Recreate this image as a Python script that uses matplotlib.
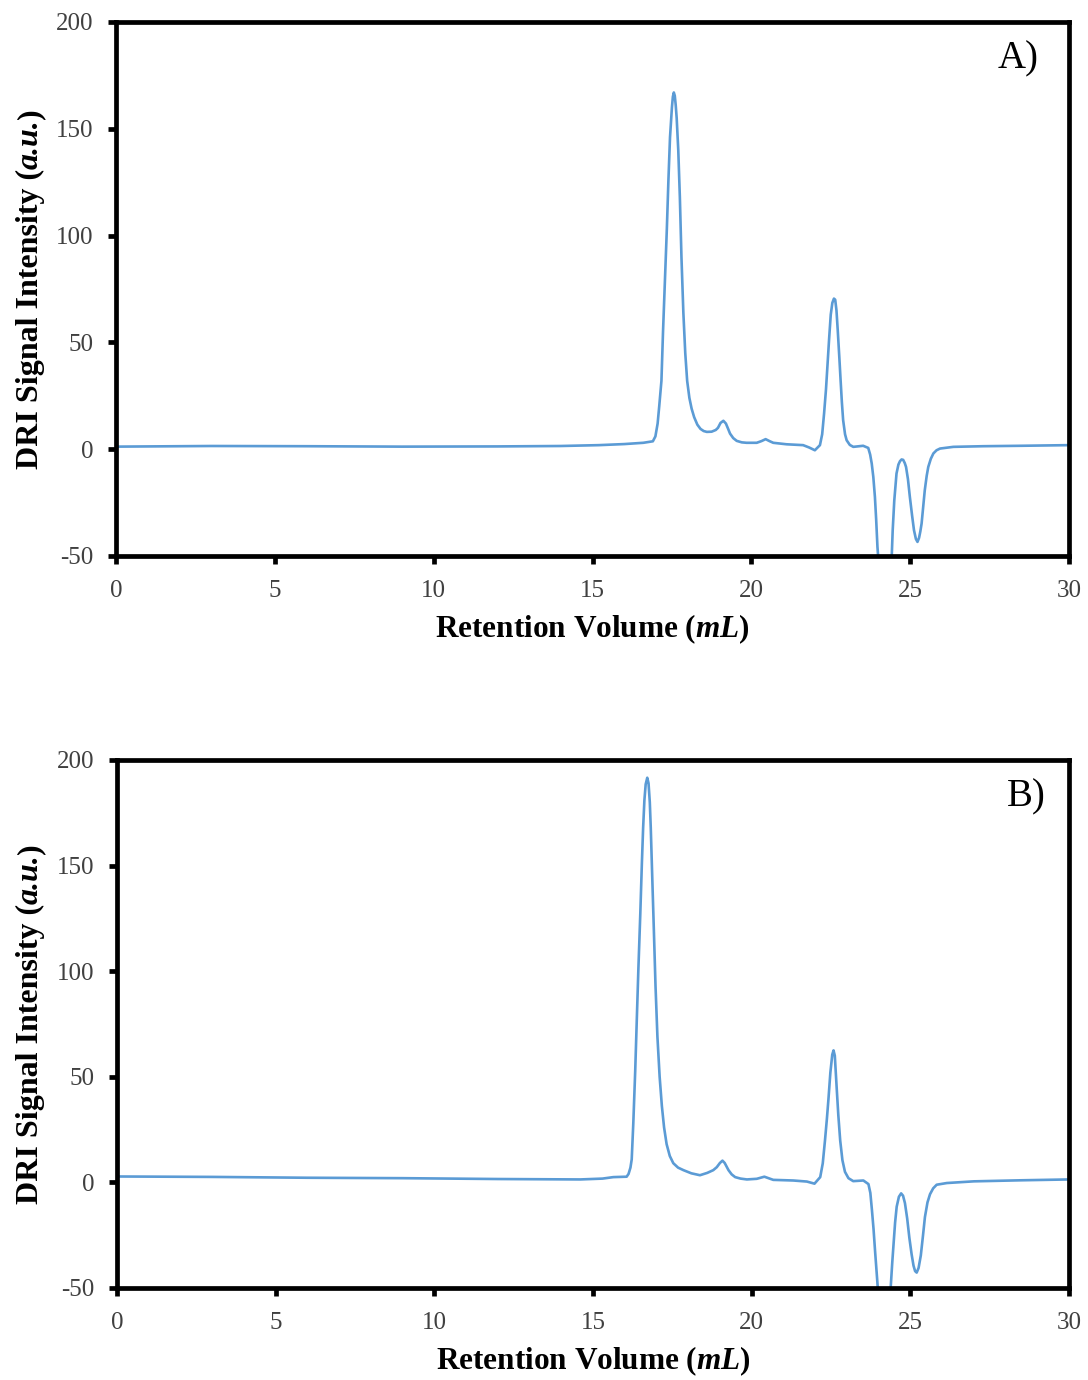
import matplotlib
matplotlib.use("Agg")
import matplotlib.pyplot as plt

# ---------------- data ----------------
x_a = [0, 3, 6, 9, 12, 14, 15.2, 16.0, 16.6, 16.9, 16.98, 17.05, 17.1, 17.17, 17.22, 17.28,
       17.34, 17.39, 17.44, 17.5, 17.53, 17.56, 17.59, 17.62, 17.65, 17.7, 17.75, 17.8,
       17.86, 17.92, 17.98, 18.05, 18.12, 18.2, 18.3, 18.4, 18.5, 18.6, 18.75, 18.88,
       18.95, 19.03, 19.12, 19.2, 19.27, 19.33, 19.43, 19.54, 19.7, 19.85, 20.17, 20.32,
       20.45, 20.57, 20.69, 21.11, 21.63, 21.82, 22.0, 22.16, 22.23, 22.29, 22.35, 22.4,
       22.45, 22.5, 22.55, 22.6, 22.64, 22.68, 22.72, 22.77, 22.81, 22.85, 22.89, 22.95,
       23.0, 23.1, 23.21, 23.52, 23.68, 23.74, 23.79, 23.84, 23.89, 23.93, 23.97, 24.05,
       24.2, 24.35, 24.42, 24.45, 24.5, 24.57, 24.63, 24.68, 24.73, 24.78, 24.83, 24.87,
       24.93, 24.99, 25.06, 25.12, 25.18, 25.23, 25.28, 25.32, 25.36, 25.41, 25.46, 25.52,
       25.57, 25.65, 25.73, 25.83, 25.94, 26.36, 27.3, 28.5, 30]
y_a = [1.2, 1.5, 1.4, 1.2, 1.3, 1.5, 1.9, 2.4, 3.0, 3.7, 6, 12, 20, 32, 55, 79,
       103, 126, 146, 160, 165, 167, 165.5, 161, 155, 140, 118, 90,
       64, 45, 32, 24, 19, 15, 11.5, 9.5, 8.5, 8.1, 8.2, 9.0,
       10, 12.3, 13.3, 12, 9.5, 7.3, 5.2, 3.9, 3.2, 3.0, 3.0, 3.8,
       4.7, 3.8, 3.0, 2.3, 1.9, 0.8, -0.5, 1.9, 7, 16.7, 28, 40,
       52, 63, 68.5, 70.5, 70, 65, 55.7, 43, 32.3, 22, 13.6, 7,
       4.2, 2.0, 1.1, 1.6, 0.6, -2.5, -6.7, -13, -22.3, -33, -45.7, -62,
       -75, -62, -50, -38, -24, -11.4, -7.2, -5.6, -4.8, -5.0, -6.5, -8.3,
       -14, -22.3, -31, -37.9, -42, -43.4, -41.5, -38.5, -34.8, -27, -19.2, -12.5,
       -8.3, -4.5, -2.0, -0.5, 0.3, 1.1, 1.4, 1.6, 1.9]

x_b = [0, 3, 6, 9, 12, 14.6, 15.3, 15.64, 16.06, 16.12, 16.18, 16.22, 16.27, 16.33, 16.38,
       16.43, 16.49, 16.54, 16.58, 16.62, 16.66, 16.71, 16.75, 16.79, 16.82, 16.87, 16.92,
       16.97, 17.03, 17.1, 17.17, 17.24, 17.32, 17.42, 17.53, 17.68, 17.85, 18.1, 18.37,
       18.6, 18.79, 18.9, 19.0, 19.08, 19.15, 19.21, 19.27, 19.37, 19.48, 19.65, 19.85,
       20.16, 20.28, 20.4, 20.53, 20.68, 21.31, 21.74, 21.98, 22.16, 22.24, 22.31, 22.37,
       22.42, 22.48, 22.54, 22.58, 22.62, 22.68, 22.73, 22.79, 22.86, 22.94, 23.05, 23.2,
       23.52, 23.68, 23.74, 23.79, 23.84, 23.89, 23.96, 24.03, 24.17, 24.31, 24.38, 24.43,
       24.47, 24.52, 24.57, 24.64, 24.71, 24.77, 24.83, 24.9, 24.97, 25.04, 25.1, 25.15,
       25.2, 25.26, 25.33, 25.4, 25.46, 25.54, 25.62, 25.72, 25.83, 26.15, 27.0, 28.5, 30]
y_b = [2.8, 2.6, 2.2, 2.0, 1.6, 1.4, 1.8, 2.5, 2.7, 4, 7, 10.9, 28, 52.7, 77,
       101, 127, 151, 168, 181, 188.5, 191.6, 189, 180, 168, 143, 118.4,
       93, 69, 50, 36.2, 26, 18.1, 12.5, 9.1, 7, 5.8, 4.3, 3.4,
       4.5, 5.8, 7.2, 9.2, 10.3, 9.2, 7.5, 5.8, 3.8, 2.5, 1.8, 1.4,
       1.7, 2.2, 2.7, 2.0, 1.2, 0.9, 0.4, -0.6, 2.5, 9, 19.8, 30,
       39.5, 52, 60.5, 62.5, 60, 44.5, 32, 19.8, 10.5, 5.0, 2.0, 0.6,
       0.9, -0.8, -5, -13.1, -22, -32.8, -47, -62, -75, -62, -50, -38,
       -29.5, -19, -11.5, -6.8, -5.2, -6.3, -9.8, -17, -26.3, -34, -39.4, -42,
       -42.7, -40.5, -34.6, -25, -16.4, -9.5, -5.6, -2.8, -1.1, -0.3, 0.5, 1.0, 1.4]

panel_labels = ["A)", "B)"]
x_ticks = [0, 5, 10, 15, 20, 25, 30]
y_ticks = [-50, 0, 50, 100, 150, 200]
ylabel_parts = [("DRI Signal Intensity (", "normal"), ("a.u.", "italic"), (")", "normal")]

# ---------------- style ----------------
serif = "Liberation Serif"
plt.rcParams["axes.unicode_minus"] = False
plt.rcParams["mathtext.fontset"] = "custom"
plt.rcParams["mathtext.it"] = "Liberation Serif:italic:bold"
plt.rcParams["mathtext.rm"] = "Liberation Serif:bold"
plt.rcParams["mathtext.bf"] = "Liberation Serif:bold"

W, H = 1088, 1380
fig = plt.figure(figsize=(W / 100, H / 100), dpi=100)
renderer = fig.canvas.get_renderer()
line_color = "#5B9BD5"

axes_pos = [
    [116 / W, 1 - 556 / H, (1069 - 116) / W, (556 - 22) / H],
    [117 / W, 1 - 1288 / H, (1069 - 117) / W, (1288 - 760) / H],
]
series = [(x_a, y_a), (x_b, y_b)]
label_xy = [(0.968, 0.93), (0.976, 0.93)]
ylab_fs = 23

# measure the y-label pieces (unrotated widths)
part_w = []
for s, st in ylabel_parts:
    t = fig.text(0, 0, s, fontfamily=serif, fontsize=ylab_fs, fontweight="bold", fontstyle=st)
    part_w.append(t.get_window_extent(renderer).width)
    t.remove()
total_w = sum(part_w)

for pos, (xs, ys), lab, lxy in zip(axes_pos, series, panel_labels, label_xy):
    ax = fig.add_axes(pos)
    ax.plot(xs, ys, color=line_color, lw=1.9, solid_joinstyle="round")
    ax.set_xlim(0, 30)
    ax.set_ylim(-50, 200)
    ax.set_xticks(x_ticks)
    ax.set_yticks(y_ticks)
    for s in ax.spines.values():
        s.set_linewidth(3.4)
        s.set_color("black")
    ax.tick_params(axis="both", direction="out", length=6, width=3.4, color="black",
                   labelsize=18, labelcolor="#404040")
    ax.tick_params(axis="x", pad=11)
    ax.tick_params(axis="y", pad=10)
    for t in ax.get_xticklabels() + ax.get_yticklabels():
        t.set_fontfamily(serif)
    ax.set_xlabel(r"Retention Volume ($mL$)", fontfamily=serif,
                  fontsize=22.5, fontweight="bold", labelpad=8)
    ax.text(lxy[0], lxy[1], lab, transform=ax.transAxes, ha="right", va="center",
            fontfamily=serif, fontsize=28)

    # rotated y label built from pieces (mixed upright / italic)
    yc_px = (pos[1] + pos[3] / 2) * H
    y_px = yc_px - total_w / 2
    x_px = 38
    for (s, st), w in zip(ylabel_parts, part_w):
        fig.text(x_px / W, y_px / H, s, rotation=90, rotation_mode="anchor",
                 ha="left", va="baseline", fontfamily=serif, fontsize=ylab_fs,
                 fontweight="bold", fontstyle=st)
        y_px += w

fig.savefig("out.png", dpi=100)
